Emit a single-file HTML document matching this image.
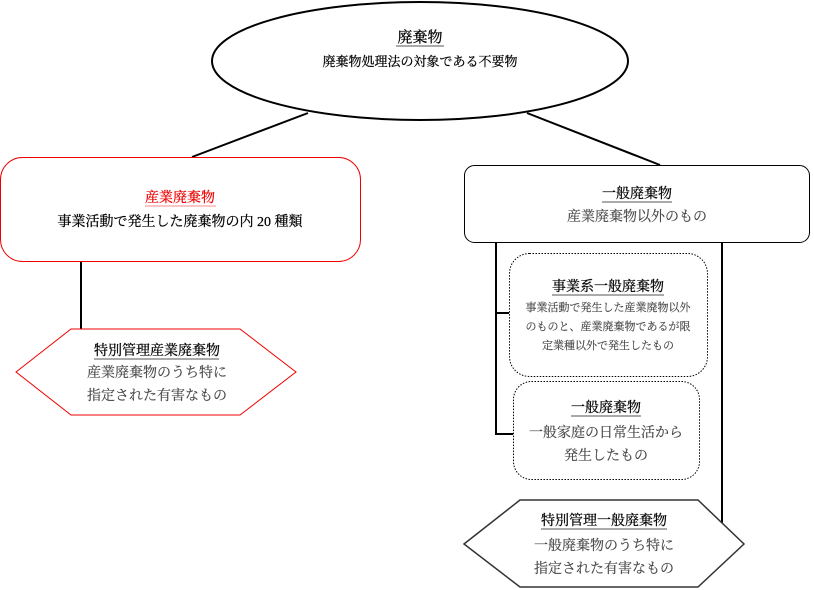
<!DOCTYPE html>
<html><head><meta charset="utf-8"><style>
html,body{margin:0;padding:0;background:#fff;}
svg{display:block;}
text{font-family:"Liberation Serif","Noto Serif CJK SC",serif;text-anchor:middle;fill:#000;stroke:#000;stroke-width:0.25;}
text.g{fill:#444;stroke:#444;stroke-width:0.15;}
text.r{fill:#e00;stroke:#e00;}
</style></head><body>
<svg width="814" height="590" viewBox="0 0 814 590" xmlns="http://www.w3.org/2000/svg">
<g stroke="#000" stroke-width="2" fill="none">
<line x1="308" y1="113" x2="192" y2="157"/>
<line x1="527" y1="113" x2="660" y2="165"/>
<line x1="81" y1="262" x2="81" y2="330"/>
<line x1="496" y1="242" x2="496" y2="435"/>
<line x1="496" y1="313" x2="509" y2="313"/>
<line x1="496" y1="434" x2="513" y2="434"/>
<line x1="722" y1="242" x2="722" y2="528"/>
</g>
<ellipse cx="420" cy="61" rx="208" ry="59" fill="#fff" stroke="#000" stroke-width="2"/>
<rect x="0.5" y="157.5" width="360" height="104" rx="22" fill="#fff" stroke="#e00" stroke-width="1"/>
<rect x="464.5" y="165.5" width="345" height="77" rx="10" fill="#fff" stroke="#000" stroke-width="1"/>
<polygon points="16,372 71,329 240,329 296,372 240,415 71,415" fill="#fff" stroke="#e00" stroke-width="1"/>
<rect x="509.5" y="253.5" width="198" height="123" rx="20" fill="#fff" stroke="#000" stroke-width="1" stroke-dasharray="1.5,1.5"/>
<rect x="513.5" y="381.5" width="186" height="98" rx="18" fill="#fff" stroke="#000" stroke-width="1" stroke-dasharray="1.5,1.5"/>
<polygon points="464,544 520,500 698,500 744,544 698,587 520,587" fill="#fff" stroke="#333" stroke-width="1.5"/>

<text x="420" y="42" font-size="15">廃棄物</text>
<line x1="396" y1="46" x2="444" y2="46" stroke="#555"/>
<text x="420" y="66" font-size="13">廃棄物処理法の対象である不要物</text>

<text x="180" y="202" font-size="14" class="r">産業廃棄物</text>
<line x1="145" y1="206" x2="216" y2="206" stroke="#f88"/>
<text x="180" y="226" font-size="14">事業活動で発生した廃棄物の内 20 種類</text>

<text x="637" y="198" font-size="14">一般廃棄物</text>
<line x1="602" y1="202" x2="672" y2="202" stroke="#555"/>
<text x="637" y="221" font-size="14" class="g">産業廃棄物以外のもの</text>

<text x="157" y="355" font-size="14">特別管理産業廃棄物</text>
<line x1="94" y1="359" x2="219" y2="359" stroke="#555"/>
<text x="157" y="377" font-size="14" class="g">産業廃棄物のうち特に</text>
<text x="157" y="400" font-size="14" class="g">指定された有害なもの</text>

<text x="608" y="291" font-size="14">事業系一般廃棄物</text>
<line x1="552" y1="295" x2="664" y2="295" stroke="#555"/>
<text x="608" y="311" font-size="11" class="g">事業活動で発生した産業廃物以外</text>
<text x="608" y="330" font-size="11" class="g">のものと、産業廃棄物であるが限</text>
<text x="608" y="349" font-size="11" class="g">定業種以外で発生したもの</text>

<text x="606" y="412" font-size="14">一般廃棄物</text>
<line x1="571" y1="416" x2="641" y2="416" stroke="#555"/>
<text x="606" y="437" font-size="14" class="g">一般家庭の日常生活から</text>
<text x="606" y="460" font-size="14" class="g">発生したもの</text>

<text x="604" y="525" font-size="14">特別管理一般廃棄物</text>
<line x1="541" y1="529" x2="667" y2="529" stroke="#555"/>
<text x="604" y="550" font-size="14" class="g">一般廃棄物のうち特に</text>
<text x="604" y="573" font-size="14" class="g">指定された有害なもの</text>
</svg>
</body></html>
